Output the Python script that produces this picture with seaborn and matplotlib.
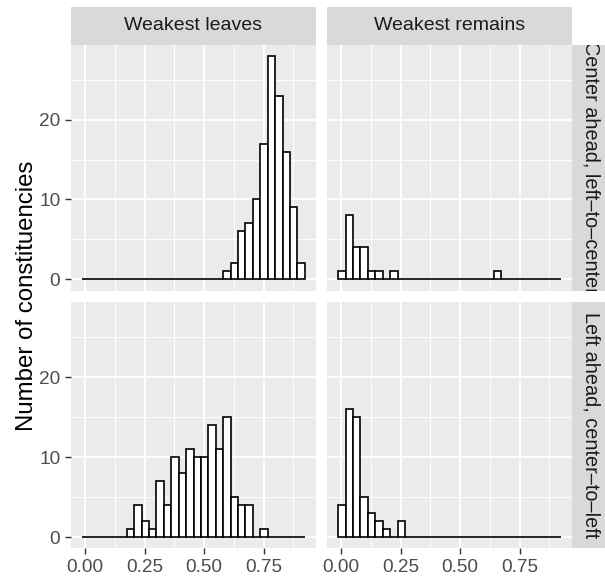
import numpy as np
import pandas as pd
import matplotlib
matplotlib.use("Agg")
import matplotlib.pyplot as plt
import seaborn as sns
from matplotlib.patches import Rectangle
from matplotlib.transforms import Bbox

# bin layout (30 bins, ggplot default)
bin_start = -0.013
bin_width = 0.0312
n_bins = 30

# counts per bin, one list per panel
leaves_center = [0]*19 + [1, 2, 6, 7, 10, 17, 28, 23, 16, 9, 2]
remains_center = [1, 8, 4, 4, 1, 1, 0, 1] + [0]*13 + [1] + [0]*8
leaves_left = [0]*6 + [1, 4, 2, 1, 7, 4, 10, 8, 11, 10, 10, 14, 11, 15, 5, 4, 4, 0, 1] + [0]*5
remains_left = [4, 16, 15, 5, 3, 2, 1, 0, 2] + [0]*21

col_labels = ["Weakest leaves", "Weakest remains"]
row_labels = ["Center ahead, left\u2013to\u2013center", "Left ahead, center\u2013to\u2013left"]
x_ticks = [0.0, 0.25, 0.5, 0.75]
x_ticklabels = ["0.00", "0.25", "0.50", "0.75"]
y_ticks = [0, 10, 20]

panels = [[leaves_center, remains_center], [leaves_left, remains_left]]

plt.rcParams['font.family'] = ['Liberation Sans', 'DejaVu Sans']

W, H = 605, 577
fig = plt.figure(figsize=(W / 100, H / 100), dpi=100)

edges = bin_start + bin_width * np.arange(n_bins + 1)
centers = (edges[:-1] + edges[1:]) / 2
span = edges[-1] - edges[0]
xlim = (edges[0] - 0.05 * span, edges[-1] + 0.05 * span)
ymax = 28
ylim = (-0.05 * ymax, ymax * 1.05)

px_left = [71, 327]
px_top = [44.5, 302.3]
pw, ph = 245, 246

def fx(x):
    return x / W

def fy(y):
    return 1 - y / H

for r in range(2):
    for c in range(2):
        ax = fig.add_axes([fx(px_left[c]), fy(px_top[r] + ph), pw / W, ph / H])
        ax.set_facecolor("#EBEBEB")
        df = pd.DataFrame({"share": centers, "n": panels[r][c]})
        sns.histplot(data=df, x="share", weights="n", bins=list(edges), ax=ax,
                     color="white", edgecolor="black", linewidth=1.2,
                     alpha=1, zorder=3)
        ax.set_xlim(xlim)
        ax.set_ylim(ylim)
        ax.set_xlabel("")
        ax.set_ylabel("")
        for s in ax.spines.values():
            s.set_visible(False)
        ax.set_xticks(x_ticks)
        ax.set_yticks(y_ticks)
        ax.set_xticks([0.125, 0.375, 0.625, 0.875], minor=True)
        ax.set_yticks([5, 15, 25], minor=True)
        ax.grid(True, which="major", color="white", linewidth=1.3, zorder=0)
        ax.grid(True, which="minor", color="white", linewidth=0.65, zorder=0)
        ax.set_axisbelow(True)
        ax.tick_params(which="minor", length=0)
        ax.tick_params(which="major", length=4.4, width=1.0, color="#333333",
                       labelsize=13.7, labelcolor="#4D4D4D", pad=3.3)
        if r == 0:
            ax.tick_params(axis="x", which="major", length=0, labelbottom=False)
        else:
            ax.set_xticklabels(x_ticklabels)
        if c == 1:
            ax.tick_params(axis="y", which="major", length=0, labelleft=False)
        else:
            ax.set_yticklabels([str(v) for v in y_ticks])

# column strips
for c in range(2):
    fig.patches.append(Rectangle((fx(px_left[c]), fy(44.5)), pw / W, 37.8 / H,
                                 transform=fig.transFigure, facecolor="#D9D9D9",
                                 edgecolor="none", zorder=1))
    fig.text(fx(px_left[c] + pw / 2), fy(25.6), col_labels[c], ha="center",
             va="center", fontsize=14, color="#1A1A1A")

# row strips (running off the right edge, text clipped to the strip)
for r in range(2):
    x0, y0 = fx(572), fy(px_top[r] + ph)
    fig.patches.append(Rectangle((x0, y0), 38 / W, ph / H,
                                 transform=fig.transFigure, facecolor="#D9D9D9",
                                 edgecolor="none", zorder=1))
    t = fig.text(fx(591), fy(px_top[r] + ph / 2), row_labels[r], ha="center",
                 va="center", rotation=-90, fontsize=14.3, color="#1A1A1A")
    t.set_clip_box(Bbox.from_extents(572, H - px_top[r] - ph, 615, H - px_top[r]))
    t.set_clip_on(True)

fig.text(fx(27), fy((44.5 + 548) / 2), "Number of constituencies", rotation=90,
         ha="center", va="center", fontsize=17.3, color="black")

fig.savefig("out.png", dpi=100)
